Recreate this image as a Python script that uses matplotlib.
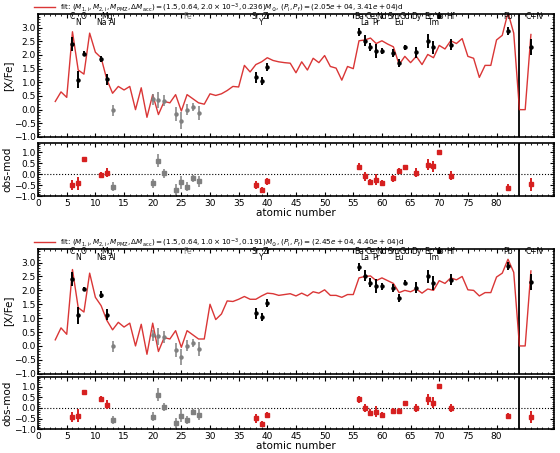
import numpy as np
import matplotlib
matplotlib.use("Agg")
import matplotlib.pyplot as plt
from matplotlib.ticker import MultipleLocator

# ---------------- data ----------------
model_z = list(range(3, 87))
model_top = [0.3, 0.65, 0.45, 2.85, 1.45, 1.3, 2.8, 2.1, 1.9, 1.1, 0.6, 0.85, 0.72, 0.85, 0.0,
             0.8, -0.28, 0.55, -0.18, 0.3, 0.25, 0.55, -0.05, 0.55, 0.4, 0.25, 0.2, 0.58, 0.52,
             0.58, 0.7, 0.85, 0.83, 1.62, 1.38, 1.65, 1.75, 1.9, 1.8, 1.75, 1.72, 1.7, 1.35, 1.75,
             1.45, 1.88, 1.72, 1.98, 1.58, 1.52, 1.08, 1.58, 1.5, 2.52, 2.55, 2.62, 2.42, 2.52,
             2.4, 2.3, 1.65, 1.95, 1.72, 1.95, 1.65, 2.02, 1.9, 2.35, 2.22, 2.52, 2.42, 2.6, 1.95,
             1.88, 1.18, 1.62, 1.62, 2.55, 2.72, 3.55, 2.8, 0.0, 0.0, 2.75]
model_bot = [0.22, 0.65, 0.42, 2.75, 1.38, 1.22, 2.62, 1.75, 1.45, 0.92, 0.58, 0.85, 0.68, 0.82, 0.0,
             0.78, -0.3, 0.82, -0.2, 0.3, 0.25, 0.55, -0.05, 0.55, 0.4, 0.25, 0.25, 1.5, 0.95,
             1.15, 1.62, 1.6, 1.68, 1.78, 1.68, 1.68, 1.8, 1.9, 1.88, 1.82, 1.85, 1.88, 1.8, 1.9,
             1.8, 1.95, 1.9, 2.02, 1.82, 1.82, 1.75, 1.85, 1.85, 2.45, 2.5, 2.52, 2.35, 2.45,
             2.35, 2.25, 1.92, 2.0, 1.95, 2.05, 1.9, 2.05, 2.0, 2.35, 2.25, 2.45, 2.38, 2.5, 2.02,
             2.0, 1.8, 1.92, 1.92, 2.48, 2.62, 3.12, 2.65, 0.0, 0.0, 2.7]

obs_z = [6, 7, 8, 11, 12, 38, 39, 40, 56, 57, 58, 59, 60, 62, 63, 64, 66, 68, 69, 70, 72, 82, 86]
obs_val = [2.4, 1.1, 2.05, 1.85, 1.12, 1.18, 1.05, 1.55, 2.85, 2.52, 2.28, 2.15, 2.15, 2.08, 1.72,
           2.28, 2.1, 2.5, 2.28, 3.42, 2.38, 2.88, 2.3]
obs_err = [0.25, 0.3, 0.08, 0.12, 0.2, 0.2, 0.15, 0.15, 0.15, 0.2, 0.15, 0.25, 0.12, 0.15, 0.15,
           0.1, 0.2, 0.25, 0.25, 0.1, 0.2, 0.15, 0.3]
gray_z = [13, 20, 21, 22, 24, 25, 26, 27, 28]
gray_val = [-0.02, 0.38, 0.35, 0.32, -0.15, -0.4, 0.0, 0.1, -0.12]
gray_err = [0.2, 0.2, 0.3, 0.2, 0.25, 0.3, 0.2, 0.15, 0.25]

res_top = [-0.48, -0.4, 0.7, -0.02, 0.08, -0.48, -0.7, -0.32, 0.35, -0.08, -0.35, -0.25, -0.38,
           -0.18, 0.15, 0.32, 0.08, 0.45, 0.38, 1.0, -0.05, -0.6, -0.45]
res_bot = [-0.42, -0.35, 0.75, 0.42, 0.15, -0.48, -0.75, -0.32, 0.4, 0.0, -0.22, -0.18, -0.32,
           -0.15, -0.15, 0.22, 0.0, 0.4, 0.25, 1.02, 0.0, -0.38, -0.42]
res_gray = [-0.55, -0.4, 0.62, 0.05, -0.7, -0.35, -0.55, -0.18, -0.32]

labels = ["C", "N", "O", "Na", "Mg", "Al", "Fe", "Sr", "Y", "Zr", "Ba", "La", "Ce", "Pr", "Nd",
          "Sm", "Eu", "Gd", "Dy", "Er", "Tm", "Yb", "Hf", "Pb", "C+N"]
label_z = [6, 7, 8, 11, 12, 13, 26, 38, 39, 40, 56, 57, 58, 59, 60, 62, 63, 64, 66, 68, 69, 70, 72, 82, 86.6]
label_low = [0, 1, 0, 1, 0, 1, 0, 0, 1, 0, 0, 1, 0, 1, 0, 0, 1, 0, 0, 0, 1, 0, 0, 0, 0]

legend_top = (r"fit: $(M_{1,\rm i}, M_{2,\rm i}, M_{\rm PMZ}, \Delta M_{\rm acc}) = (1.5, 0.64, 2.0\times10^{-3}, 0.236) M_{\odot}$, "
              r"$(P_{\rm i}, P_{\rm f}) = (2.05e+04, 3.41e+04)$d")
legend_bot = (r"fit: $(M_{1,\rm i}, M_{2,\rm i}, M_{\rm PMZ}, \Delta M_{\rm acc}) = (1.5, 0.64, 1.0\times10^{-3}, 0.191) M_{\odot}$, "
              r"$(P_{\rm i}, P_{\rm f}) = (2.45e+04, 4.40e+04)$d")

RED = "#d62020"
fig = plt.figure(figsize=(5.6, 4.53), dpi=100)
L, W = 0.068, 0.921


def style(ax):
    ax.tick_params(direction="in", which="both", top=True, right=True, labelsize=6.5, pad=1.5)
    ax.tick_params(which="major", length=3)
    ax.tick_params(which="minor", length=1.5)
    ax.xaxis.set_minor_locator(MultipleLocator(1))
    ax.set_xticks(range(0, 81, 5))
    for s in ax.spines.values():
        s.set_linewidth(1.2)
    ax.set_xlim(0, 90)
    ax.axvline(84, color="black", lw=1.3)


def panel(ybot_main, h_main, ybot_res, h_res, model, res, legtxt):
    ax = fig.add_axes([L, ybot_main, W, h_main])
    style(ax)
    ax.set_ylim(-1, 3.5)
    ax.set_yticks(np.arange(-1, 3.01, 0.5))
    ax.yaxis.set_minor_locator(MultipleLocator(0.1))
    ax.tick_params(labelbottom=False)
    ln, = ax.plot(model_z, model, color=RED, lw=1.0, alpha=0.9)
    ax.errorbar(obs_z, obs_val, yerr=obs_err, fmt="o", color="black", ms=2.2, elinewidth=1.4, capsize=0)
    ax.errorbar(gray_z, gray_val, yerr=gray_err, fmt="o", color="gray", ms=2.2, elinewidth=1.1, capsize=0)
    for t, z, lo in zip(labels, label_z, label_low):
        ax.text(z, 3.02 if lo else 3.23, t, ha="center", va="bottom", fontsize=5.5,
                color="gray" if t == "Fe" else "black")
    ax.set_ylabel("[X/Fe]", fontsize=7.5, labelpad=1)
    ax.legend([ln], [legtxt], loc="lower left", bbox_to_anchor=(-0.01, 0.99), frameon=False,
              fontsize=5.2, handlelength=2.8, borderaxespad=0.1, borderpad=0.1)

    ar = fig.add_axes([L, ybot_res, W, h_res])
    style(ar)
    ar.set_ylim(-1, 1.45)
    ar.set_yticks(np.arange(-1, 1.01, 0.5))
    ar.yaxis.set_minor_locator(MultipleLocator(0.1))
    ar.axhline(0, color="black", ls=":", lw=0.8)
    ar.errorbar(obs_z, res, yerr=obs_err, fmt="s", color=RED, ms=2.8, elinewidth=1.4, capsize=0)
    ar.errorbar(gray_z, res_gray, yerr=gray_err, fmt="s", color="gray", ms=2.8, elinewidth=1.1, capsize=0)
    ar.set_ylabel("obs-mod", fontsize=7.5, labelpad=1)
    ar.set_xlabel("atomic number", fontsize=7.5, labelpad=0)


panel(0.6976, 0.2715, 0.5664, 0.1188, model_top, res_top, legend_top)
panel(0.175, 0.2760, 0.052, 0.1160, model_bot, res_bot, legend_bot)

fig.savefig("out.png", dpi=100)
